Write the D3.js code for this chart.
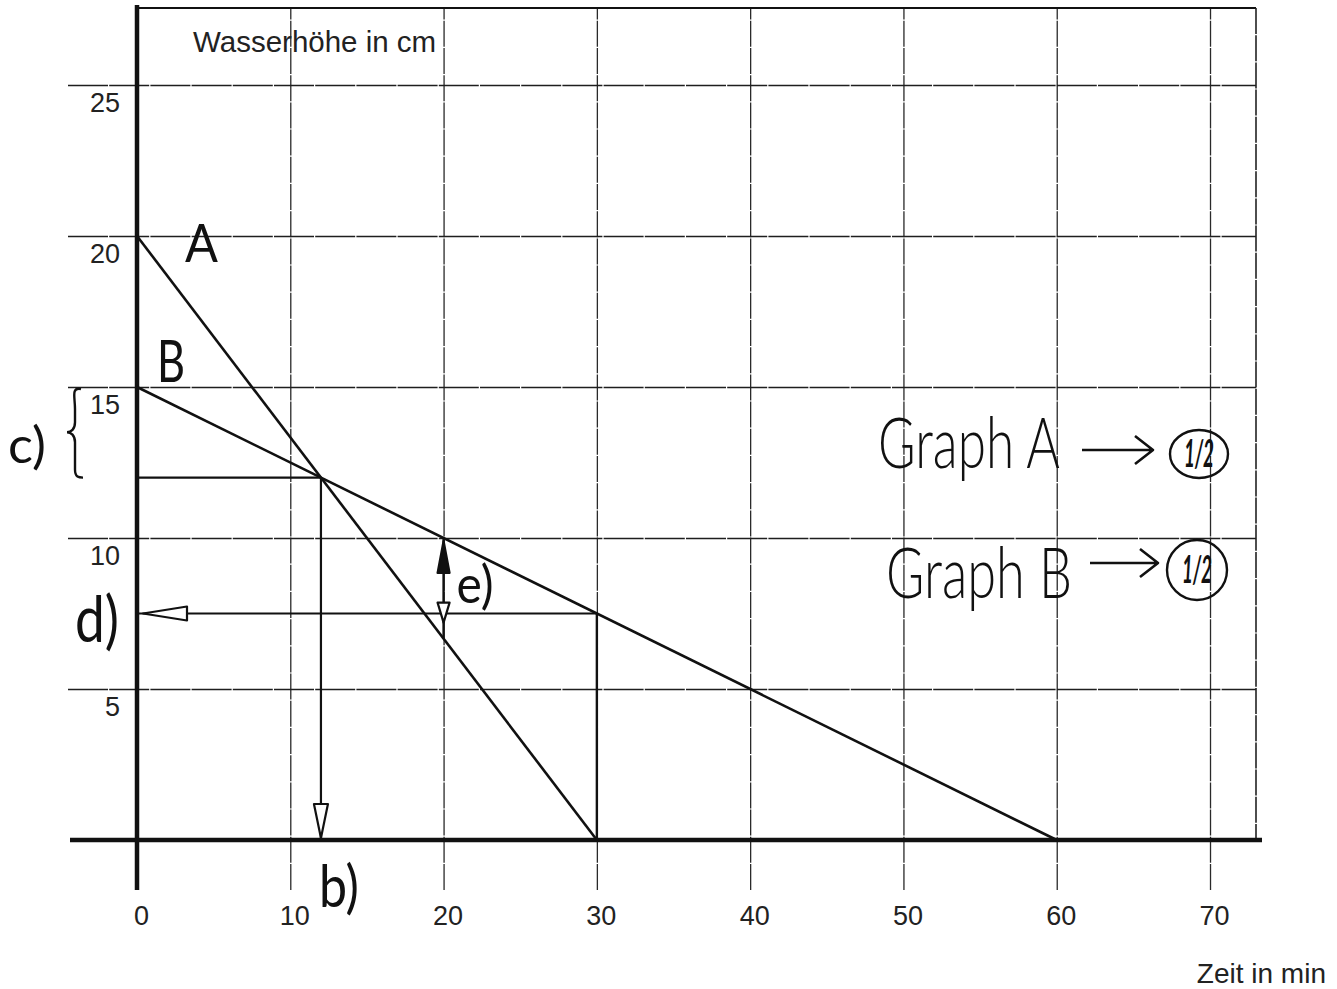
<!DOCTYPE html>
<html><head><meta charset="utf-8">
<script src="https://cdn.jsdelivr.net/npm/d3@7"></script>
<style>html,body{margin:0;padding:0;background:#fff;} svg{display:block;}</style>
</head><body>
<svg id="chart" width="1337" height="989"></svg>
<script>
// ---- data ----
const xTickValues = [0, 10, 20, 30, 40, 50, 60, 70];
const xTickLabels = ["0", "10", "20", "30", "40", "50", "60", "70"];
const yTickValues = [5, 10, 15, 20, 25];
const yTickLabels = ["5", "10", "15", "20", "25"];
const xTitle = "Zeit in min";
const yTitle = "Wasserhöhe in cm";
const graphATime = [0, 30];
const graphAHeight = [20, 0];
const graphBTime = [0, 60];
const graphBHeight = [15, 0];
const crossPoint = [12, 12];          // b) intersection (t, h)
const readTime = 30, readHeight = 7.5; // d)
const diffTime = 20, diffTop = 10, diffBottom = 6.67; // e)
const braceRange = [15, 12];          // c)
const graphLabels = ["Graph A", "Graph B"];
const scoreLabels = ["1/2", "1/2"];

// ---- scales ----
const svg = d3.select("#chart");
const x = d3.scaleLinear().domain([0, 73]).range([137, 1256]);
const y = d3.scaleLinear().domain([0, 27.55]).range([840, 8]);
const ink = "#111";
const hand = "Lato, 'Open Sans', sans-serif";
const print = "'Liberation Sans', Arial, sans-serif";

// vertical grid lines (extend below axis)
const vGrid = svg.append("g").attr("transform", `translate(0,${y(0) + 50})`)
  .call(d3.axisTop(x).tickValues(xTickValues.slice(1)).tickSize(y(0) + 50 - y(27.55)).tickFormat(""));
vGrid.select(".domain").remove();
vGrid.selectAll("line").attr("stroke", "#2a2a2a").attr("stroke-width", 1.3).attr("stroke-dasharray", "26,1.2");

// horizontal grid lines (extend left of axis)
const hGrid = svg.append("g").attr("transform", `translate(${x(0) - 69},0)`)
  .call(d3.axisRight(y).tickValues(yTickValues).tickSize(x(73) - x(0) + 69).tickFormat(""));
hGrid.select(".domain").remove();
hGrid.selectAll("line").attr("stroke", "#1e1e1e").attr("stroke-width", 1.5).attr("stroke-dasharray", "40,1.2");

// frame top & right
svg.append("line").attr("x1", x(0)).attr("x2", x(73)).attr("y1", y(27.55)).attr("y2", y(27.55))
  .attr("stroke", ink).attr("stroke-width", 2);
svg.append("line").attr("x1", x(73)).attr("x2", x(73)).attr("y1", y(27.55)).attr("y2", y(0))
  .attr("stroke", "#222").attr("stroke-width", 1.6).attr("stroke-dasharray", "26,1.2");

// axes lines
svg.append("line").attr("x1", x(0) - 67).attr("x2", x(73) + 6).attr("y1", y(0)).attr("y2", y(0))
  .attr("stroke", ink).attr("stroke-width", 4.5);
svg.append("line").attr("x1", x(0)).attr("x2", x(0)).attr("y1", y(27.55) - 3).attr("y2", y(0) + 50)
  .attr("stroke", ink).attr("stroke-width", 4.5);

// tick labels
const xLab = svg.append("g").attr("transform", `translate(4,0)`)
  .call(d3.axisBottom(x).tickValues(xTickValues).tickSize(0).tickFormat((d, i) => xTickLabels[i]));
xLab.select(".domain").remove();
xLab.selectAll("text").attr("y", 925).attr("dy", null)
  .attr("font-family", print).attr("font-size", 27).attr("fill", "#222");

const yLab = svg.append("g").attr("transform", `translate(${x(0) - 17},0)`)
  .call(d3.axisLeft(y).tickValues(yTickValues).tickSize(0).tickPadding(0).tickFormat((d, i) => yTickLabels[i]));
yLab.select(".domain").remove();
yLab.selectAll("text").attr("dy", null).attr("y", 26)
  .attr("font-family", print).attr("font-size", 27).attr("fill", "#222");

// titles
svg.append("text").attr("x", 193).attr("y", 52).text(yTitle)
  .attr("font-family", print).attr("font-size", 29.5).attr("fill", "#222");
svg.append("text").attr("x", 1326).attr("y", 983).attr("text-anchor", "end").text(xTitle)
  .attr("font-family", print).attr("font-size", 28).attr("fill", "#222");

// graphs
const line = d3.line().x(d => x(d.t)).y(d => y(d.h));
const dataA = graphATime.map((t, i) => ({ t, h: graphAHeight[i] }));
const dataB = graphBTime.map((t, i) => ({ t, h: graphBHeight[i] }));
[dataA, dataB].forEach(d => svg.append("path").datum(d).attr("d", line)
  .attr("fill", "none").attr("stroke", ink).attr("stroke-width", 2.6));

// annotation helper lines
function seg(t1, h1, t2, h2, w) {
  return svg.append("path").datum([{ t: t1, h: h1 }, { t: t2, h: h2 }]).attr("d", line)
    .attr("fill", "none").attr("stroke", ink).attr("stroke-width", w || 2.2);
}
// b) intersection
seg(0, crossPoint[1], crossPoint[0], crossPoint[1]);
seg(crossPoint[0], crossPoint[1], crossPoint[0], 0);
function head(px, py, dx, dy, len, half, fill) {
  const nx = -dy, ny = dx;
  const bx = px - dx * len, by = py - dy * len;
  svg.append("path")
    .attr("d", `M${px},${py}L${bx + nx * half},${by + ny * half}L${bx - nx * half},${by - ny * half}Z`)
    .attr("fill", fill || "#fff").attr("stroke", ink).attr("stroke-width", 2.2).attr("stroke-linejoin", "round");
}
head(x(crossPoint[0]), y(0) - 2, 0, 1, 34, 7);

// d) horizontal read line and vertical at 30
seg(readTime, readHeight, 0, readHeight);
seg(readTime, readHeight, readTime, 0, 2.4);
head(x(0) + 6, y(readHeight), -1, 0, 44, 7);

// e) double arrow
seg(diffTime, diffTop, diffTime, diffBottom, 2.4);
head(x(diffTime), y(diffTop) + 3, 0, -1, 32, 6, ink);
head(x(diffTime), y(diffBottom) - 16, 0, 1, 20, 6, "#fff");

// c) brace
const bTop = y(braceRange[0]), bBot = y(braceRange[1]), bMid = (bTop + bBot) / 2, bx = x(0) - 68;
svg.append("path")
  .attr("d", `M${bx + 12},${bTop + 2} C${bx + 2},${bTop} ${bx + 6},${bTop + 10} ${bx + 6},${bTop + 22}
    L${bx + 6},${bMid - 10} C${bx + 6},${bMid - 3} ${bx + 2},${bMid} ${bx - 2},${bMid}
    C${bx + 2},${bMid} ${bx + 6},${bMid + 3} ${bx + 6},${bMid + 10}
    L${bx + 6},${bBot - 8} C${bx + 6},${bBot} ${bx + 10},${bBot} ${bx + 14},${bBot}`)
  .attr("fill", "none").attr("stroke", ink).attr("stroke-width", 2.4);

// handwritten labels
function htext(tx, ty, str, fs, len, w) {
  return svg.append("text").attr("x", tx).attr("y", ty).text(str)
    .attr("font-family", hand).attr("font-weight", w || 400).attr("font-size", fs).attr("fill", ink)
    .attr("textLength", len).attr("lengthAdjust", "spacingAndGlyphs");
}
htext(x(0) + 48, y(graphAHeight[0]) + 26, "A", 52, 33);
htext(x(0) + 20, y(graphBHeight[0]) - 5, "B", 58, 28);
htext(8, 463, "c)", 50, 38);
htext(75, 642, "d)", 64, 44);
htext(x(diffTime) + 13, 603, "e)", 52, 37);
htext(x(crossPoint[0]) - 2, 907, "b)", 58, 40);

// Graph A / B with arrows and circled 1/2
const rows = [{ label: graphLabels[0], score: scoreLabels[0], tx: 878, base: 468, len: 182, ax1: 1082, ax2: 1153, ay: 450, cx: 1199, cy: 454, rx: 29, ry: 24 },
              { label: graphLabels[1], score: scoreLabels[1], tx: 886, base: 598, len: 186, ax1: 1090, ax2: 1158, ay: 563, cx: 1197, cy: 570, rx: 30, ry: 30 }];
rows.forEach(r => {
  htext(r.tx, r.base, r.label, 70, r.len, 300);
  svg.append("path").attr("d", `M${r.ax1},${r.ay}L${r.ax2},${r.ay}M${r.ax2 - 18},${r.ay - 14}L${r.ax2},${r.ay}L${r.ax2 - 18},${r.ay + 14}`)
    .attr("fill", "none").attr("stroke", ink).attr("stroke-width", 2.6).attr("stroke-linejoin", "round");
  svg.append("ellipse").attr("cx", r.cx).attr("cy", r.cy).attr("rx", r.rx).attr("ry", r.ry)
    .attr("fill", "none").attr("stroke", ink).attr("stroke-width", 2.4);
  svg.append("text").attr("x", r.cx).attr("y", r.cy + 13).attr("text-anchor", "middle").text(r.score)
    .attr("font-family", hand).attr("font-weight", 700).attr("font-style", "italic").attr("font-size", 38).attr("fill", ink)
    .attr("textLength", 30).attr("lengthAdjust", "spacingAndGlyphs");
});
</script>
</body></html>
